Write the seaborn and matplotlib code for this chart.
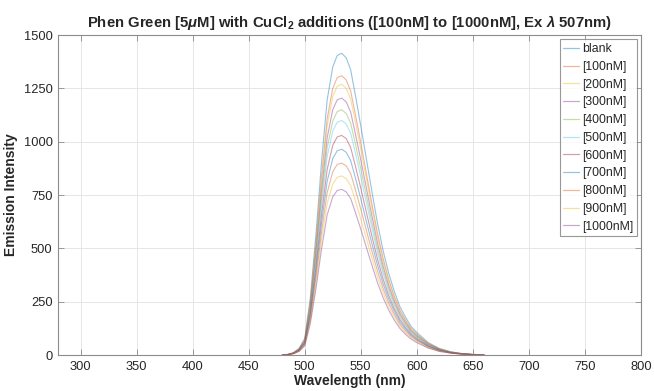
import seaborn as sns
import matplotlib.pyplot as plt
import pandas as pd

sns.set_theme(style="whitegrid")
plt.rcParams['font.family'] = ['Liberation Sans', 'DejaVu Sans']
plt.rcParams['mathtext.fontset'] = 'custom'
plt.rcParams['mathtext.it'] = 'Liberation Sans:italic:bold'
plt.rcParams['mathtext.rm'] = 'Liberation Sans:bold'

# =====================
# DATA
# =====================
wavelength = [480, 485, 490, 495, 500, 505, 510, 515, 520, 525, 529, 533, 537, 541, 545,
              550, 555, 560, 565, 570, 575, 580, 585, 590, 595, 600, 610, 620, 630, 640, 650, 660]

blank = [0, 3, 11, 31, 78, 269, 566, 906, 1196, 1351, 1405, 1415, 1394, 1337, 1224,
         1075, 920, 764, 616, 488, 382, 297, 226, 177, 134, 106, 59, 31, 16, 7, 3, 0]
cu_100 = [0, 3, 10, 29, 72, 249, 524, 838, 1107, 1251, 1301, 1310, 1290, 1238, 1133,
          996, 852, 707, 570, 452, 354, 275, 210, 164, 124, 98, 55, 29, 14, 7, 3, 0]
cu_200 = [0, 3, 10, 28, 70, 241, 508, 813, 1073, 1213, 1261, 1270, 1251, 1200, 1099,
          965, 826, 686, 552, 438, 343, 267, 203, 159, 121, 95, 53, 28, 14, 6, 3, 0]
cu_300 = [0, 2, 10, 27, 66, 229, 482, 771, 1018, 1151, 1197, 1205, 1187, 1139, 1042,
          916, 783, 651, 524, 416, 325, 253, 193, 151, 114, 90, 51, 27, 13, 6, 2, 0]
cu_400 = [0, 2, 9, 25, 63, 219, 460, 736, 972, 1098, 1142, 1150, 1133, 1087, 995,
          874, 748, 621, 500, 397, 311, 242, 184, 144, 109, 86, 48, 25, 13, 6, 2, 0]
cu_500 = [0, 2, 9, 24, 61, 209, 440, 704, 930, 1051, 1092, 1100, 1084, 1040, 952,
          836, 715, 594, 479, 380, 297, 231, 176, 138, 105, 83, 46, 24, 12, 6, 2, 0]
cu_600 = [0, 2, 8, 23, 57, 196, 412, 659, 870, 984, 1023, 1030, 1015, 973, 891,
          783, 670, 556, 448, 355, 278, 216, 165, 129, 98, 77, 43, 23, 11, 5, 2, 0]
cu_700 = [0, 2, 8, 21, 53, 183, 386, 618, 815, 922, 958, 965, 951, 912, 835,
          733, 627, 521, 420, 333, 261, 203, 154, 121, 92, 72, 41, 21, 11, 5, 2, 0]
cu_800 = [0, 2, 7, 20, 50, 171, 360, 576, 761, 860, 894, 900, 887, 851, 779,
          684, 585, 486, 392, 311, 243, 189, 144, 113, 86, 68, 38, 20, 10, 5, 2, 0]
cu_900 = [0, 2, 7, 18, 46, 160, 336, 538, 710, 802, 834, 840, 827, 794, 727,
          638, 546, 454, 365, 290, 227, 176, 134, 105, 80, 63, 35, 18, 9, 4, 2, 0]
cu_1000 = [0, 2, 6, 17, 43, 148, 311, 497, 657, 742, 772, 777, 765, 734, 672,
           591, 505, 420, 338, 268, 210, 163, 124, 97, 74, 58, 33, 17, 9, 4, 2, 0]

labels = ['blank', '[100nM]', '[200nM]', '[300nM]', '[400nM]', '[500nM]',
          '[600nM]', '[700nM]', '[800nM]', '[900nM]', '[1000nM]']
series = [blank, cu_100, cu_200, cu_300, cu_400, cu_500,
          cu_600, cu_700, cu_800, cu_900, cu_1000]

# MATLAB default colour order, cycling
matlab = ['#0072BD', '#D95319', '#EDB120', '#7E2F8E', '#77AC30', '#4DBEEE', '#A2142F']
palette = [matlab[i % len(matlab)] for i in range(len(labels))]

df = pd.DataFrame({
    'Wavelength': wavelength * len(series),
    'Intensity': [v for s in series for v in s],
    'Sample': [lab for lab in labels for _ in wavelength],
})

fig, ax = plt.subplots(figsize=(6.54, 3.91), dpi=100)
fig.subplots_adjust(left=0.089, right=0.980, top=0.910, bottom=0.092)

sns.lineplot(data=df, x='Wavelength', y='Intensity', hue='Sample', hue_order=labels,
             palette=palette, linewidth=0.8, alpha=0.42, ax=ax, legend=True)

ax.set_xlim(280, 800)
ax.set_ylim(0, 1500)
ax.set_xticks(range(300, 801, 50))
ax.set_yticks(range(0, 1501, 250))
ax.grid(True, color='#e6e6e6', linewidth=0.7)
for sp in ax.spines.values():
    sp.set_visible(True)
    sp.set_color('#8c8c8c')
    sp.set_linewidth(0.8)
ax.tick_params(direction='in', length=4, width=0.6, color='#8c8c8c',
               labelsize=9.3, labelcolor='#262626', top=True, right=True,
               bottom=True, left=True, pad=4)

ax.set_title(r'Phen Green [5$\mu$M] with CuCl$_2$ additions ([100nM] to [1000nM], Ex $\lambda$ 507nm)',
             fontsize=10.7, fontweight='bold', pad=6)
ax.set_xlabel('Wavelength (nm)', fontsize=10, fontweight='bold', labelpad=1)
ax.set_ylabel('Emission Intensity', fontsize=10, fontweight='bold', labelpad=4)

handles, labs = ax.get_legend_handles_labels()
leg = ax.legend(handles, labs, loc='upper right', fontsize=8.8, frameon=True, fancybox=False,
                handlelength=1.3, handletextpad=0.2, labelspacing=0.47,
                borderpad=0.3, borderaxespad=0.35)
leg.get_frame().set_edgecolor('#7f7f7f')
leg.get_frame().set_linewidth(0.8)
for h in leg.get_lines():
    h.set_alpha(0.42)
    h.set_linewidth(0.9)

plt.savefig('out.png', dpi=100)
